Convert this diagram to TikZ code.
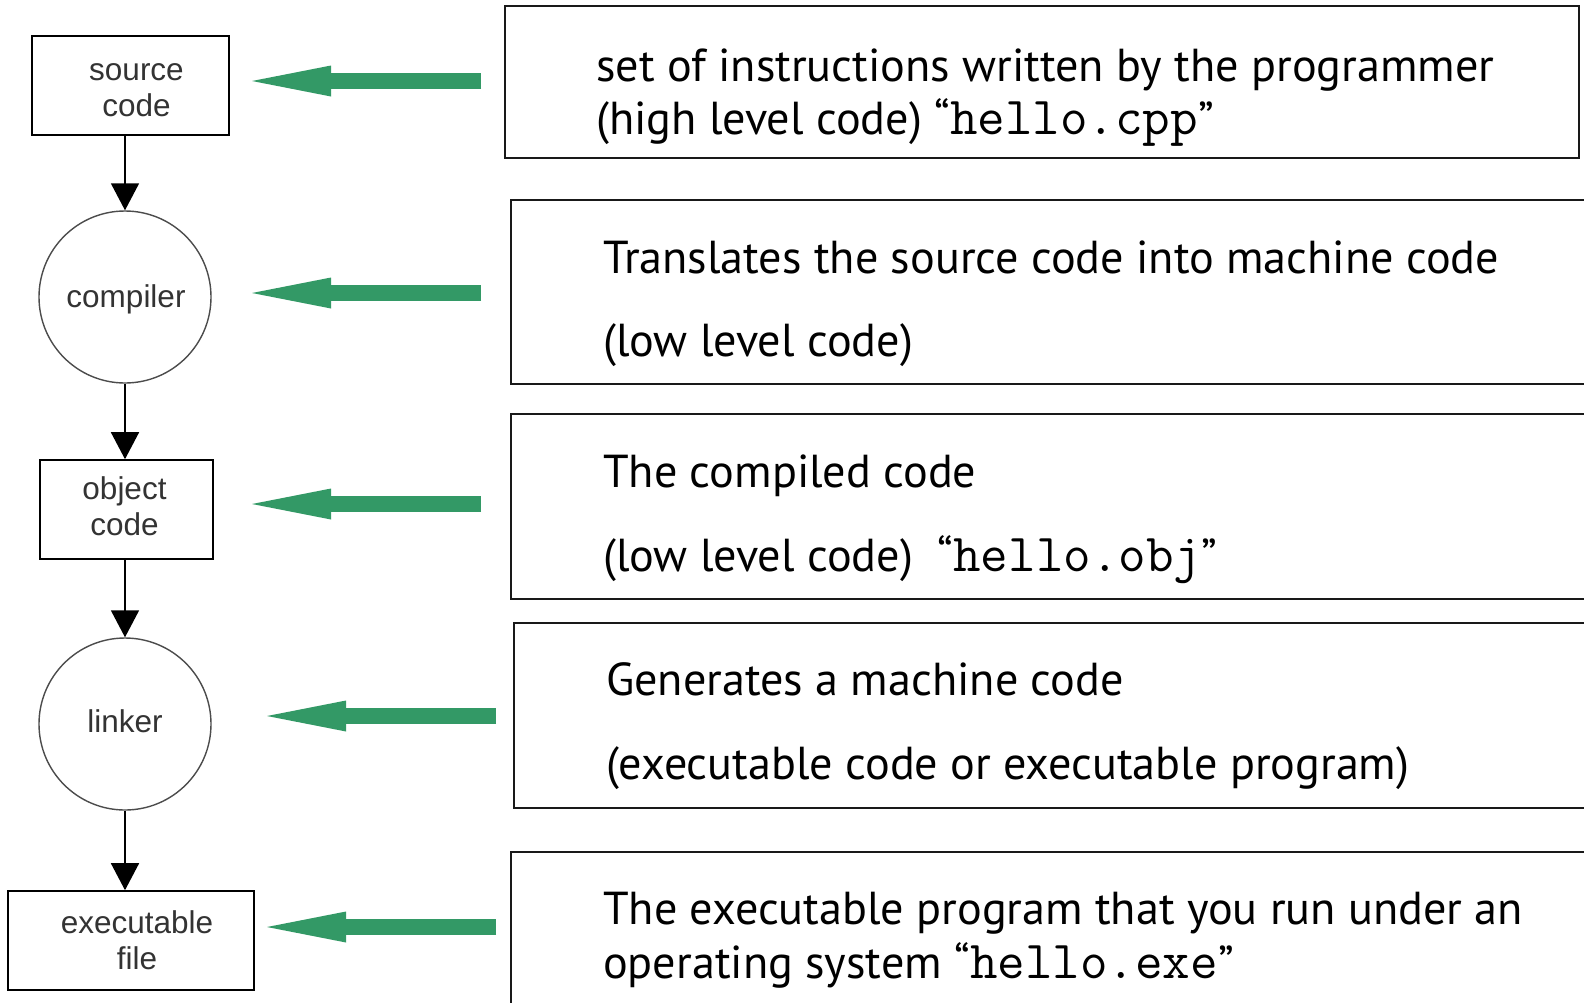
\documentclass[tikz,border=0pt]{standalone}
\usepackage{fontspec}
\usetikzlibrary{arrows.meta}
\newfontfamily\descfont{PT Sans}
\newfontfamily\flowfont{Liberation Sans}
\definecolor{pointergreen}{RGB}{51,153,102}
\newcommand{\fname}[1]{{\ttfamily\fontsize{53.5}{53}\selectfont #1}}

\begin{document}
\begin{tikzpicture}[x=1pt,y=-1pt,
  flowtext/.style={font=\flowfont\fontsize{31.5}{36}\selectfont, text=black!80, align=center, inner sep=0pt},
  flowbox/.style={draw=black, line width=1.6pt, rectangle, inner sep=0pt},
  flowcircle/.style={draw=black!70, line width=1.4pt, circle, minimum size=172pt, inner sep=0pt},
  flowarrow/.style={draw=black, line width=1.6pt, -{Triangle[length=27pt,width=28pt]}},
  pointer/.style={draw=pointergreen, line width=16pt, -{Triangle[length=79pt,width=31pt,line width=0pt]}},
  descbox/.style={draw=black!90, line width=1.8pt, rectangle, inner sep=0pt},
  desctext/.style={font=\descfont\fontsize{46.2}{53}\selectfont, text=black, anchor=base west, inner sep=0pt},
]
\clip (0,0) rectangle (1584,1002);
\fill[white] (0,0) rectangle (1584,1002);

% flow chart on the left
\node[flowbox, minimum width=197pt, minimum height=99pt] (src) at (130.5,85.5) {};
\node[flowcircle] (comp) at (125,297) {};
\node[flowbox, minimum width=173pt, minimum height=99pt] (obj) at (126.5,509.5) {};
\node[flowcircle] (link) at (125,724) {};
\node[flowbox, minimum width=246pt, minimum height=99pt] (exe) at (131,940.5) {};

\node[flowtext] (srclabel)  at ([shift={(6,5)}]src.center)   {source\\code};
\node[flowtext] (complabel) at ([shift={(1,2)}]comp.center)  {compiler};
\node[flowtext] (objlabel)  at ([shift={(-2,-3)}]obj.center) {object\\code};
\node[flowtext] (linklabel) at ([shift={(0,-3)}]link.center) {linker};
\node[flowtext] (exelabel)  at ([shift={(6,0)}]exe.center)   {executable\\file};

\draw[flowarrow] (src.south -| comp.north) -- (comp.north);
\draw[flowarrow] (comp.south) -- (obj.north -| comp.south);
\draw[flowarrow] (obj.south -| link.north) -- (link.north);
\draw[flowarrow] (link.south) -- (exe.north -| link.south);

% description boxes on the right
\node[descbox, minimum width=1074pt, minimum height=152pt] (d1) at (1042,82) {};
\node[descbox, minimum width=1100pt, minimum height=184pt] (d2) at (1061,292) {};
\node[descbox, minimum width=1100pt, minimum height=185pt] (d3) at (1061,506.5) {};
\node[descbox, minimum width=1100pt, minimum height=185pt] (d4) at (1064,715.5) {};
\node[descbox, minimum width=1100pt, minimum height=200pt] (d5) at (1061,952) {};

\node[desctext] (t1a) at (596,81) {set of instructions written by the programmer};
\node[desctext] (t1b) at (596,134) {(high level code) “\fname{hello.cpp}”};
\node[desctext] (t2a) at (603,273) {Translates the source code into machine code};
\node[desctext] (t2b) at (603,356) {(low level code)};
\node[desctext] (t3a) at (603,487) {The compiled code};
\node[desctext] (t3b) at (603,571) {(low level code)\ \ “\fname{hello.obj}”};
\node[desctext] (t4a) at (606,695) {Generates a machine code};
\node[desctext] (t4b) at (606,779) {(executable code or executable program)};
\node[desctext] (t5a) at (603,924) {The executable program that you run under an};
\node[desctext] (t5b) at (603,978) {operating system “\fname{hello.exe}”};

% green pointers from the descriptions to the chart
\coordinate (p1) at (481,81);  \coordinate (q1) at (252,81);
\coordinate (p2) at (481,293); \coordinate (q2) at (252,293);
\coordinate (p3) at (481,504); \coordinate (q3) at (252,504);
\coordinate (p4) at (496,716); \coordinate (q4) at (267,716);
\coordinate (p5) at (496,927); \coordinate (q5) at (267,927);
\foreach \i in {1,...,5} { \draw[pointer] (p\i) -- (q\i); }
\end{tikzpicture}
\end{document}
